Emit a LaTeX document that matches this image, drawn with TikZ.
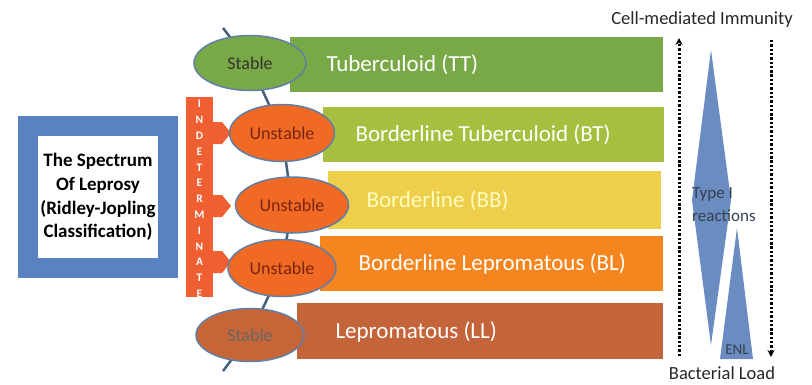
\documentclass[tikz,border=0pt]{standalone}
\usepackage{fontspec}
\setmainfont{Carlito}
\usetikzlibrary{shapes.geometric,arrows.meta}
\definecolor{ttgreen}{HTML}{79A947}
\definecolor{btgreen}{HTML}{A6BF3E}
\definecolor{bbyellow}{HTML}{EDCF4C}
\definecolor{blorange}{HTML}{F5861F}
\definecolor{llbrown}{HTML}{C4643A}
\definecolor{elorange}{HTML}{F06A23}
\definecolor{indet}{HTML}{EF5F32}
\definecolor{frameblue}{HTML}{5A82BE}
\definecolor{kiteblue}{HTML}{6A8CC0}
\definecolor{spine}{HTML}{46607A}
\definecolor{rim}{HTML}{5F7FA8}
\definecolor{darkred}{HTML}{7A2414}
\definecolor{slatetext}{HTML}{34404E}
\begin{document}
\begin{tikzpicture}[x=1pt,y=-1pt,
  bar/.style={rectangle, inner sep=0pt, anchor=north west},
  bartext/.style={anchor=west, text=white, font=\fontsize{23}{27}\selectfont},
  oval/.style={ellipse, draw=rim, line width=1.5pt, inner sep=0pt, font=\fontsize{18}{20}\selectfont},
  side/.style={font=\fontsize{18.5}{21}\selectfont, text=black!85},
  dotarrow/.style={line width=3pt, dash pattern=on 2.4pt off 1.9pt, -{Stealth[length=7pt,width=7pt]}}
]
\useasboundingbox (0,0) rectangle (812,384);

% spine
\coordinate (ctop) at (223,28);
\coordinate (c1) at (250,63);
\coordinate (c2) at (282,133);
\coordinate (c3) at (292,205);
\coordinate (c4) at (282,268);
\coordinate (c5) at (250,335);
\coordinate (cbot) at (223,371);
\draw[spine, line width=2.5pt] (ctop) -- (c1) -- (c2) -- (c3) -- (c4) -- (c5) -- (cbot);

% bars
\node[bar, fill=ttgreen, minimum width=373pt, minimum height=55pt] (tt) at (290,37) {};
\node[bar, fill=btgreen, minimum width=341pt, minimum height=55pt] (bt) at (323,107) {};
\node[bar, fill=bbyellow, minimum width=333pt, minimum height=58pt] (bb) at (328,171) {};
\node[bar, fill=blorange, minimum width=343pt, minimum height=55pt] (bl) at (320,236) {};
\node[bar, fill=llbrown, minimum width=366pt, minimum height=56pt] (ll) at (297,303) {};

\node[bartext] (ttl) at (323,64.5) {Tuberculoid (TT)};
\node[bartext] (btl) at (352,134.5) {Borderline Tuberculoid (BT)};
\node[bartext, text=yellow!25] (bbl) at (363,201) {Borderline (BB)};
\node[bartext] (bll) at (355,264) {Borderline Lepromatous (BL)};
\node[bartext] (lll) at (332,332) {Lepromatous (LL)};

% indeterminate
\node[bar, fill=indet, minimum width=27pt, minimum height=200pt] (ind) at (186,97) {};
\foreach \yy in {133,206,262}{
  \fill[indet] (212,\yy-11) -- (222,\yy-11) -- (231,\yy) -- (222,\yy+11) -- (212,\yy+11) -- cycle;
}
\node[text=white, font=\bfseries\fontsize{11.5}{15.8}\selectfont, align=center, anchor=north] (indl) at (199.5,97)
  {I\\N\\D\\E\\T\\E\\R\\M\\I\\N\\A\\T\\E};

% ellipses
\node[oval, fill=ttgreen, minimum width=112pt, minimum height=55pt, text=black!80] (e1) at (c1) {Stable};
\node[oval, fill=elorange, minimum width=105pt, minimum height=57pt, text=darkred] (e2) at (c2) {Unstable};
\node[oval, fill=elorange, minimum width=113pt, minimum height=56pt, text=darkred] (e3) at (c3) {Unstable};
\node[oval, fill=elorange, minimum width=108pt, minimum height=57pt, text=darkred] (e4) at (c4) {Unstable};
\node[oval, fill=llbrown!95!orange, minimum width=108pt, minimum height=53pt, text=black!60] (e5) at (c5) {Stable};

% left frame
\node[draw=frameblue, line width=20pt, fill=white, minimum width=140pt, minimum height=142pt, inner sep=0pt,
  align=center, font=\bfseries\fontsize{19}{23.7}\selectfont] (spectrum) at (98,197)
  {The Spectrum\\Of Leprosy\\(Ridley-Jopling\\Classification)};

% right side
\node[side] (cmi) at (702,20) {Cell-mediated Immunity};
\node[side] (bload) at (722,373) {Bacterial Load};
\coordinate (la) at (679,356);
\coordinate (lb) at (679,38);
\coordinate (ra) at (771,40);
\coordinate (rb) at (771,357);
\draw[dotarrow] (la) -- (lb);
\draw[dotarrow] (ra) -- (rb);

\fill[kiteblue] (711,50) -- (731,200) -- (711,345) -- (692,200) -- cycle;
\fill[kiteblue] (737,228) -- (753,359) -- (720,359) -- cycle;
\node[anchor=west, align=left, text=slatetext, font=\fontsize{17}{23}\selectfont, inner sep=0pt] (type) at (692,205)
  {Type I\\reactions};
\node[text=slatetext, font=\fontsize{15}{16}\selectfont, inner sep=0pt] (enl) at (737,350) {ENL};
\end{tikzpicture}
\end{document}
